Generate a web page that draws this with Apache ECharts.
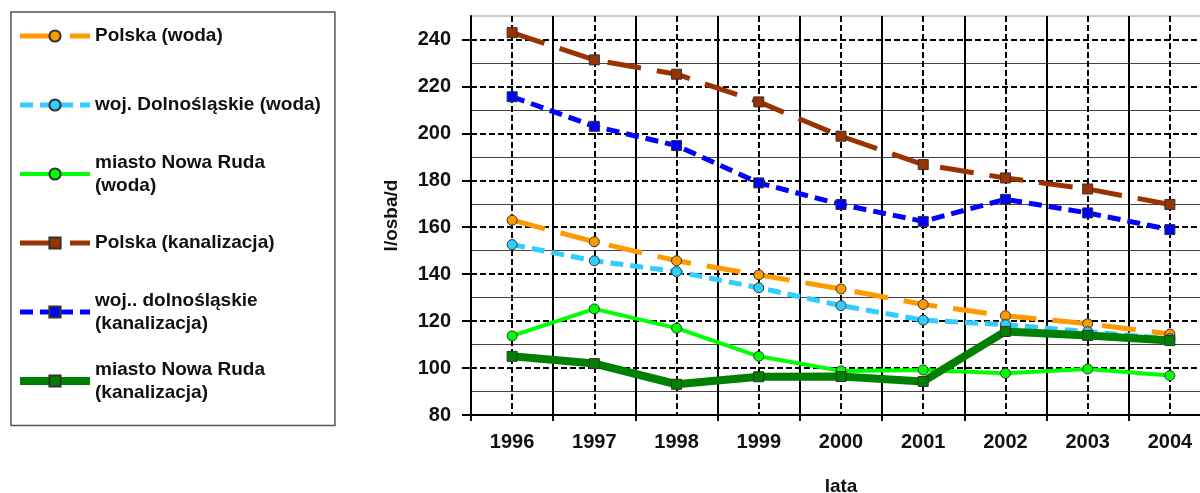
<!DOCTYPE html>
<html><head><meta charset="utf-8">
<script src="https://cdn.jsdelivr.net/npm/echarts@6/dist/echarts.min.js"></script>
<style>html,body{margin:0;padding:0;background:#fff}#c{width:1200px;height:493px}</style>
</head><body><div id="c"></div>
<script>
var years = ['1996','1997','1998','1999','2000','2001','2002','2003','2004'];
var seriesNames = ['Polska (woda)','woj. Dolnośląskie (woda)','miasto Nowa Ruda\n(woda)','Polska (kanalizacja)','woj.. dolnośląskie\n(kanalizacja)','miasto Nowa Ruda\n(kanalizacja)'];
var polskaWoda = [163.0, 153.8, 145.7, 139.7, 133.7, 127.1, 122.3, 118.9, 114.5];
var dolnoslaskieWoda = [152.6, 145.7, 141.1, 134.2, 126.6, 120.4, 118.5, 115.5, 112.5];
var nowaRudaWoda = [113.7, 125.2, 117.0, 105.0, 98.8, 99.2, 97.8, 99.6, 96.8];
var polskaKan = [242.9, 231.3, 225.2, 213.4, 198.8, 186.7, 181.0, 176.3, 169.7];
var dolnoslaskieKan = [215.6, 203.0, 194.8, 178.9, 169.7, 162.5, 171.9, 166.1, 159.0];
var nowaRudaKan = [105.0, 101.9, 93.1, 96.3, 96.4, 94.3, 115.6, 113.9, 111.7];
var yMin = 80, yMax = 250, yStep = 20;

var FONT = '"Liberation Sans", Arial, sans-serif';
var chart = echarts.init(document.getElementById('c'));

function mk(name, data, color, width, dash, symbol, size) {
  return {
    name: name, type: 'line', data: data, xAxisIndex: 0,
    symbol: symbol, symbolSize: size,
    lineStyle: { color: color, width: width, type: dash },
    itemStyle: { color: color, borderColor: '#333', borderWidth: 1 },
    emphasis: { disabled: true }
  };
}

var L = 23;
var singlePad = [L, 0, L, 0], doublePad = [L, 0, 0, 0];
chart.setOption({
  animation: false,
  textStyle: { fontFamily: FONT },
  grid: { left: 471, right: -11, top: 16, bottom: 78, show: true, borderColor: '#999', borderWidth: 1,
          outerBoundsMode: 'none', containLabel: false },
  legend: {
    orient: 'vertical', left: 11, top: 12,
    padding: [-10.5, 14, 10, 5], itemGap: 0,
    itemWidth: 70, itemHeight: 14,
    borderColor: '#555', borderWidth: 1.5,
    lineStyle: { width: 'inherit', type: 'inherit' },
    textStyle: { fontFamily: FONT, fontSize: 19, fontWeight: 'bold', color: '#111', lineHeight: L },
    data: seriesNames.map(function (n) {
      return { name: n, textStyle: { padding: n.indexOf('\n') >= 0 ? doublePad : singlePad } };
    })
  },
  xAxis: [{
    type: 'category', data: years, boundaryGap: true,
    axisLine: { lineStyle: { color: '#000', width: 2 } },
    axisTick: { show: true, length: 6, lineStyle: { color: '#000', width: 2 } },
    axisLabel: { fontSize: 20, fontWeight: 'bold', color: '#111', margin: 17, fontFamily: FONT },
    splitLine: { show: true, lineStyle: { color: '#000', width: 2 } },
    name: 'lata', nameLocation: 'middle', nameGap: 62,
    nameTextStyle: { fontSize: 19, fontWeight: 'bold', color: '#111', fontFamily: FONT }
  }, {
    type: 'category', data: years, boundaryGap: true, position: 'bottom',
    axisLine: { show: false }, axisTick: { show: false }, axisLabel: { show: false },
    splitLine: { show: true, alignWithLabel: true, lineStyle: { color: '#000', width: 2, type: [6, 3] } }
  }],
  yAxis: {
    type: 'value', min: yMin, max: yMax, interval: yStep,
    axisLine: { show: true, lineStyle: { color: '#000', width: 2 } },
    axisTick: { show: true, length: 9, lineStyle: { color: '#000', width: 2 } },
    axisLabel: { fontSize: 20, fontWeight: 'bold', color: '#111', margin: 20, fontFamily: FONT, showMaxLabel: false },
    splitLine: { show: true, showMinLine: false, showMaxLine: false, lineStyle: { color: '#000', width: 2, type: [6, 3] } },
    minorTick: { show: false, splitNumber: 2 },
    minorSplitLine: { show: true, lineStyle: { color: '#444', width: 1 } },
    name: 'l/osba/d', nameLocation: 'middle', nameGap: 70,
    nameTextStyle: { fontSize: 19, fontWeight: 'bold', color: '#111', fontFamily: FONT }
  },
  series: [
    mk(seriesNames[0], polskaWoda, '#FF9900', 5, [34, 16], 'circle', 10),
    mk(seriesNames[1], dolnoslaskieWoda, '#33CCFF', 5, [13, 7], 'circle', 10),
    mk(seriesNames[2], nowaRudaWoda, '#00FF00', 4, 'solid', 'circle', 10),
    mk(seriesNames[3], polskaKan, '#993300', 5, [34, 16], 'rect', 10),
    mk(seriesNames[4], dolnoslaskieKan, '#0000FF', 5, [13, 7], 'rect', 10),
    mk(seriesNames[5], nowaRudaKan, '#008000', 8, 'solid', 'rect', 10)
  ]
});
</script></body></html>
